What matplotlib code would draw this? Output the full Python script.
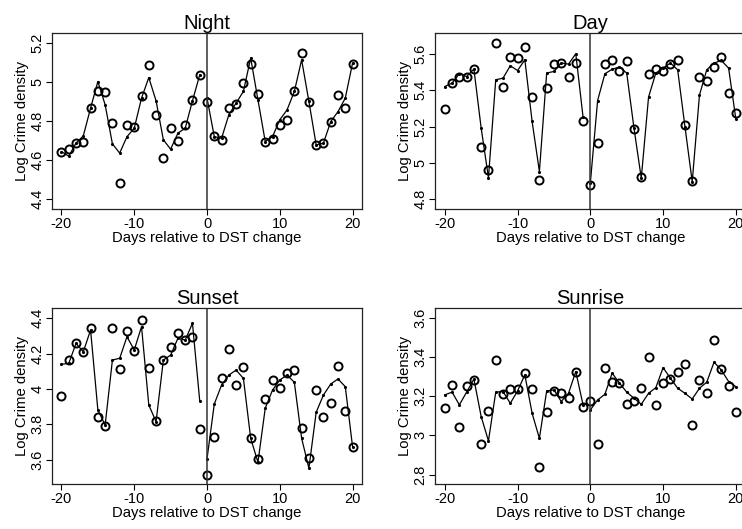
import matplotlib
matplotlib.use("Agg")
import matplotlib.pyplot as plt
from matplotlib.ticker import FuncFormatter

plt.rcParams["font.family"] = ["Liberation Sans", "DejaVu Sans"]
plt.rcParams["axes.unicode_minus"] = False

# Datos
days = list(range(-20, 21))

night_obs = [4.639, 4.659, 4.690, 4.695, 4.869, 4.951, 4.946, 4.791, 4.485, 4.779,
             4.767, 4.929, 5.087, 4.833, 4.613, 4.763, 4.700, 4.779, 4.905, 5.033,
             4.895, 4.721, 4.704, 4.866, 4.888, 4.994, 5.093, 4.937, 4.692, 4.707,
             4.780, 4.804, 4.951, 5.149, 4.896, 4.676, 4.685, 4.794, 4.934, 4.864,
             5.091]
night_fit = [4.644, 4.620, 4.687, 4.724, 4.866, 5.002, 4.883, 4.683, 4.636, 4.720,
             4.763, 4.917, 5.022, 4.903, 4.704, 4.656, 4.738, 4.763, 4.903, 5.036,
             4.917, 4.720, 4.712, 4.832, 4.892, 4.951, 5.122, 4.908, 4.695, 4.720,
             4.806, 4.857, 4.951, 5.113, 4.900, 4.678, 4.687, 4.797, 4.848, 4.917,
             5.096]

day_obs = [5.297, 5.442, 5.472, 5.470, 5.514, 5.086, 4.961, 5.661, 5.417, 5.582,
           5.574, 5.635, 5.363, 4.908, 5.411, 5.543, 5.547, 5.475, 5.550, 5.228,
           4.879, 5.112, 5.543, 5.563, 5.508, 5.561, 5.187, 4.923, 5.488, 5.519,
           5.503, 5.543, 5.565, 5.209, 4.903, 5.473, 5.448, 5.528, 5.580, 5.383,
           5.275]
day_fit = [5.420, 5.439, 5.490, 5.475, 5.516, 5.191, 4.919, 5.457, 5.466, 5.534,
           5.508, 5.567, 5.228, 4.953, 5.494, 5.503, 5.549, 5.543, 5.600, 5.252,
           4.890, 5.343, 5.490, 5.515, 5.527, 5.494, 5.191, 4.916, 5.362, 5.494,
           5.521, 5.549, 5.512, 5.200, 4.897, 5.374, 5.512, 5.549, 5.563, 5.521,
           5.241]

sunset_obs = [3.962, 4.166, 4.260, 4.209, 4.345, 3.842, 3.791, 4.345, 4.115, 4.330,
              4.217, 4.392, 4.121, 3.819, 4.166, 4.236, 4.315, 4.275, 4.294, 3.775,
              3.515, 3.726, 4.064, 4.225, 4.021, 4.123, 3.725, 3.602, 3.945, 4.051,
              4.008, 4.091, 4.106, 3.779, 3.611, 3.994, 3.840, 3.919, 4.128, 3.874,
              3.674]
sunset_fit = [4.140, 4.145, 4.258, 4.211, 4.334, 3.881, 3.796, 4.164, 4.174, 4.296,
              4.221, 4.353, 3.909, 3.815, 4.164, 4.192, 4.287, 4.277, 4.372, 3.932,
              3.604, 3.915, 4.022, 4.079, 4.107, 4.060, 3.721, 3.585, 3.891, 3.994,
              4.051, 4.079, 4.038, 3.721, 3.551, 3.868, 3.966, 4.028, 4.057, 4.013,
              3.673]

sunrise_obs = [3.140, 3.258, 3.045, 3.251, 3.282, 2.957, 3.125, 3.387, 3.210, 3.239,
               3.236, 3.319, 3.237, 2.839, 3.120, 3.226, 3.215, 3.193, 3.324, 3.144,
               3.176, 2.955, 3.346, 3.271, 3.268, 3.159, 3.176, 3.244, 3.401, 3.154,
               3.266, 3.287, 3.326, 3.363, 3.052, 3.283, 3.217, 3.489, 3.338, 3.253,
               3.117]
sunrise_fit = [3.207, 3.221, 3.156, 3.221, 3.288, 3.096, 2.972, 3.221, 3.224, 3.164,
               3.227, 3.309, 3.113, 2.985, 3.227, 3.232, 3.173, 3.215, 3.326, 3.156,
               3.130, 3.181, 3.210, 3.318, 3.267, 3.221, 3.190, 3.159, 3.215, 3.244,
               3.346, 3.292, 3.241, 3.215, 3.186, 3.241, 3.272, 3.374, 3.334, 3.275,
               3.249]

titles = ["Night", "Day", "Sunset", "Sunrise"]
ylims = [(4.35, 5.25), (4.747, 5.714), (3.462, 4.457), (2.752, 3.649)]
yticks = [[4.4, 4.6, 4.8, 5.0, 5.2], [4.8, 5.0, 5.2, 5.4, 5.6],
          [3.6, 3.8, 4.0, 4.2, 4.4], [2.8, 3.0, 3.2, 3.4, 3.6]]
obs = [night_obs, day_obs, sunset_obs, sunrise_obs]
fit = [night_fit, day_fit, sunset_fit, sunrise_fit]

# posiciones de los paneles [izq, abajo, ancho, alto]
pos = [[0.0701, 0.6049, 0.4178, 0.3327],
       [0.5867, 0.6049, 0.4178, 0.3327],
       [0.0701, 0.0851, 0.4178, 0.3321],
       [0.5867, 0.0851, 0.4178, 0.3321]]

fig = plt.figure(figsize=(7.42, 5.29), dpi=100)

for i in range(4):
    ax = fig.add_axes(pos[i])
    pre = [d for d in days if d < 0]
    post = [d for d in days if d >= 0]
    ax.plot(pre, fit[i][:20], color="black", lw=0.9, marker=".", ms=2.5)
    ax.plot(post, fit[i][20:], color="black", lw=0.9, marker=".", ms=2.5)
    ax.plot(days, obs[i], ls="none", marker="o", ms=5.8, mfc="none",
            mec="black", mew=1.4)
    ax.axvline(0, color="#333333", lw=1.1)
    ax.set_xlim(-21.3, 21.3)
    ax.set_ylim(*ylims[i])
    ax.set_xticks([-20, -10, 0, 10, 20])
    ax.set_yticks(yticks[i])
    ax.yaxis.set_major_formatter(FuncFormatter(lambda v, p: "%g" % round(v, 2)))
    ax.tick_params(axis="both", labelsize=10.5, length=4, width=0.8, pad=1.5)
    for lab in ax.get_yticklabels():
        lab.set_rotation(90)
        lab.set_va("center")
    for s in ax.spines.values():
        s.set_color("#222222")
        s.set_linewidth(0.9)
    ax.set_title(titles[i], fontsize=14.5, pad=3)
    ax.set_xlabel("Days relative to DST change", fontsize=10.7, labelpad=0)
    ax.set_ylabel("Log Crime density", fontsize=10.7, labelpad=1)

plt.savefig("out.png", dpi=100)
